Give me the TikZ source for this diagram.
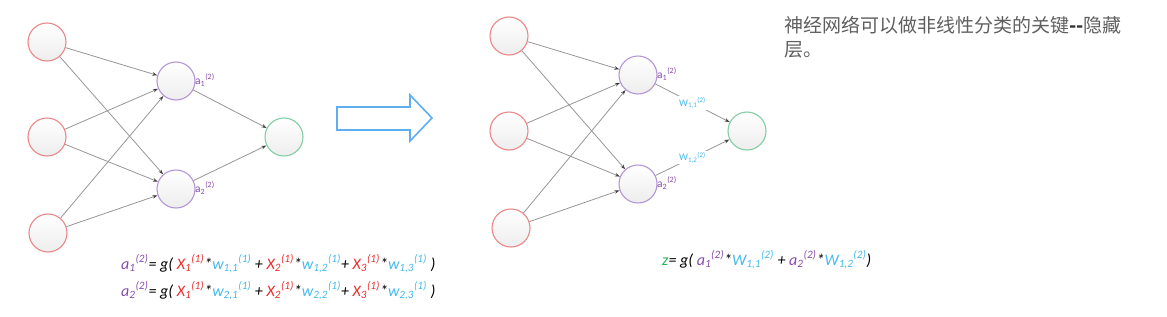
\documentclass[tikz,border=0pt]{standalone}
\usepackage{fontspec}
\setmainfont{Carlito}
\newfontfamily\cjk{Noto Sans CJK SC}
\usetikzlibrary{arrows.meta}

\definecolor{inred}{RGB}{235,135,135}
\definecolor{hidpurple}{RGB}{180,150,215}
\definecolor{outgreen}{RGB}{130,205,165}
\definecolor{edgegray}{RGB}{150,150,150}
\definecolor{apurple}{RGB}{135,75,170}
\definecolor{wcyan}{RGB}{70,185,235}
\definecolor{xred}{RGB}{235,45,45}
\definecolor{zgreen}{RGB}{40,180,90}
\definecolor{textgray}{RGB}{95,95,95}
\definecolor{bigblue}{RGB}{95,175,240}

\newcommand{\lowr}[1]{\textsubscript{#1}}
\newcommand{\upr}[1]{\textsuperscript{#1}}
\newcommand{\ap}[1]{\textcolor{apurple}{#1}}
\newcommand{\xr}[1]{\textcolor{xred}{#1}}
\newcommand{\wc}[1]{\textcolor{wcyan}{#1}}

\tikzset{
	unit/.style={circle, minimum size=38pt, inner sep=0pt, line width=1.1pt,
		top color=white, bottom color=gray!14},
	inunit/.style={unit, draw=inred},
	hidunit/.style={unit, draw=hidpurple},
	outunit/.style={unit, draw=outgreen},
	wire/.style={draw=edgegray, line width=0.8pt,
		-{Stealth[length=5pt,width=3.5pt,color=black!75]}},
	alabel/.style={anchor=west, text=apurple, inner sep=0pt, font=\fontsize{11.5}{11.5}\selectfont},
	wlabel/.style={fill=white, inner sep=1pt, text=wcyan, font=\fontsize{10}{10}\selectfont},
	formula/.style={anchor=base west, inner sep=0pt, font=\fontsize{16}{16}\selectfont\itshape}
}

\begin{document}
\begin{tikzpicture}[x=1pt,y=-1pt]
	\useasboundingbox (0,0) rectangle (1167,316);
	
	% left network
	\node[inunit](x1) at (47,42){};
	\node[inunit](x2) at (47,137){};
	\node[inunit](x3) at (48,233){};
	\node[hidunit](h1) at (176,81){};
	\node[hidunit](h2) at (176,189){};
	\node[outunit](o) at (284,137){};
	
	\draw[wire] (x1)--(h1);
	\draw[wire] (x1)--(h2);
	\draw[wire] (x2)--(h1);
	\draw[wire] (x2)--(h2);
	\draw[wire] (x3)--(h1);
	\draw[wire] (x3)--(h2);
	\draw[wire] (h1)--(o);
	\draw[wire] (h2)--(o);
	
	\node[alabel](ha1) at (195,80){a\lowr{1}\upr{(2)}};
	\node[alabel](ha2) at (195,188){a\lowr{2}\upr{(2)}};
	
	\node[formula](f1) at (121,269){\ap{a\lowr{1}\upr{(2)}}= g( \xr{X\lowr{1}\upr{(1)}}*\wc{w\lowr{1,1}\upr{(1)}} + \xr{X\lowr{2}\upr{(1)}}*\wc{w\lowr{1,2}\upr{(1)}}+ \xr{X\lowr{3}\upr{(1)}}*\wc{w\lowr{1,3}\upr{(1)}} )};
	\node[formula](f2) at (121,296){\ap{a\lowr{2}\upr{(2)}}= g( \xr{X\lowr{1}\upr{(1)}}*\wc{w\lowr{2,1}\upr{(1)}} + \xr{X\lowr{2}\upr{(1)}}*\wc{w\lowr{2,2}\upr{(1)}}+ \xr{X\lowr{3}\upr{(1)}}*\wc{w\lowr{2,3}\upr{(1)}} )};
	
	% big arrow
	\draw[bigblue, line width=1.6pt, fill=white, line join=miter]
		(337,107)--(410,107)--(410,95)--(432,118)--(410,141)--(410,130)--(337,130)--cycle;
	
	% right network
	\node[inunit](rx1) at (509,36){};
	\node[inunit](rx2) at (509,131){};
	\node[inunit](rx3) at (511,228){};
	\node[hidunit](rh1) at (638,75){};
	\node[hidunit](rh2) at (638,184){};
	\node[outunit](ro) at (747,131){};
	
	\draw[wire] (rx1)--(rh1);
	\draw[wire] (rx1)--(rh2);
	\draw[wire] (rx2)--(rh1);
	\draw[wire] (rx2)--(rh2);
	\draw[wire] (rx3)--(rh1);
	\draw[wire] (rx3)--(rh2);
	\draw[wire] (rh1)--node[wlabel](w11){W\lowr{1,1}\upr{(2)}}(ro);
	\draw[wire] (rh2)--node[wlabel](w12){W\lowr{1,2}\upr{(2)}}(ro);
	
	\node[alabel](rha1) at (657,74){a\lowr{1}\upr{(2)}};
	\node[alabel](rha2) at (657,183){a\lowr{2}\upr{(2)}};
	
	\node[formula](f3) at (662,265){\textcolor{zgreen}{z}= g( \ap{a\lowr{1}\upr{(2)}}*\wc{W\lowr{1,1}\upr{(2)}} + \ap{a\lowr{2}\upr{(2)}}*\wc{W\lowr{1,2}\upr{(2)}})};
	
	% note
	\node[anchor=north west, inner sep=0pt, align=left, text=textgray,
		font=\cjk\fontsize{19}{24}\selectfont](note) at (784,16)
		{神经网络可以做非线性分类的关键\textcolor{black!80}{\bfseries -{}-}隐藏\\层。};
\end{tikzpicture}
\end{document}
